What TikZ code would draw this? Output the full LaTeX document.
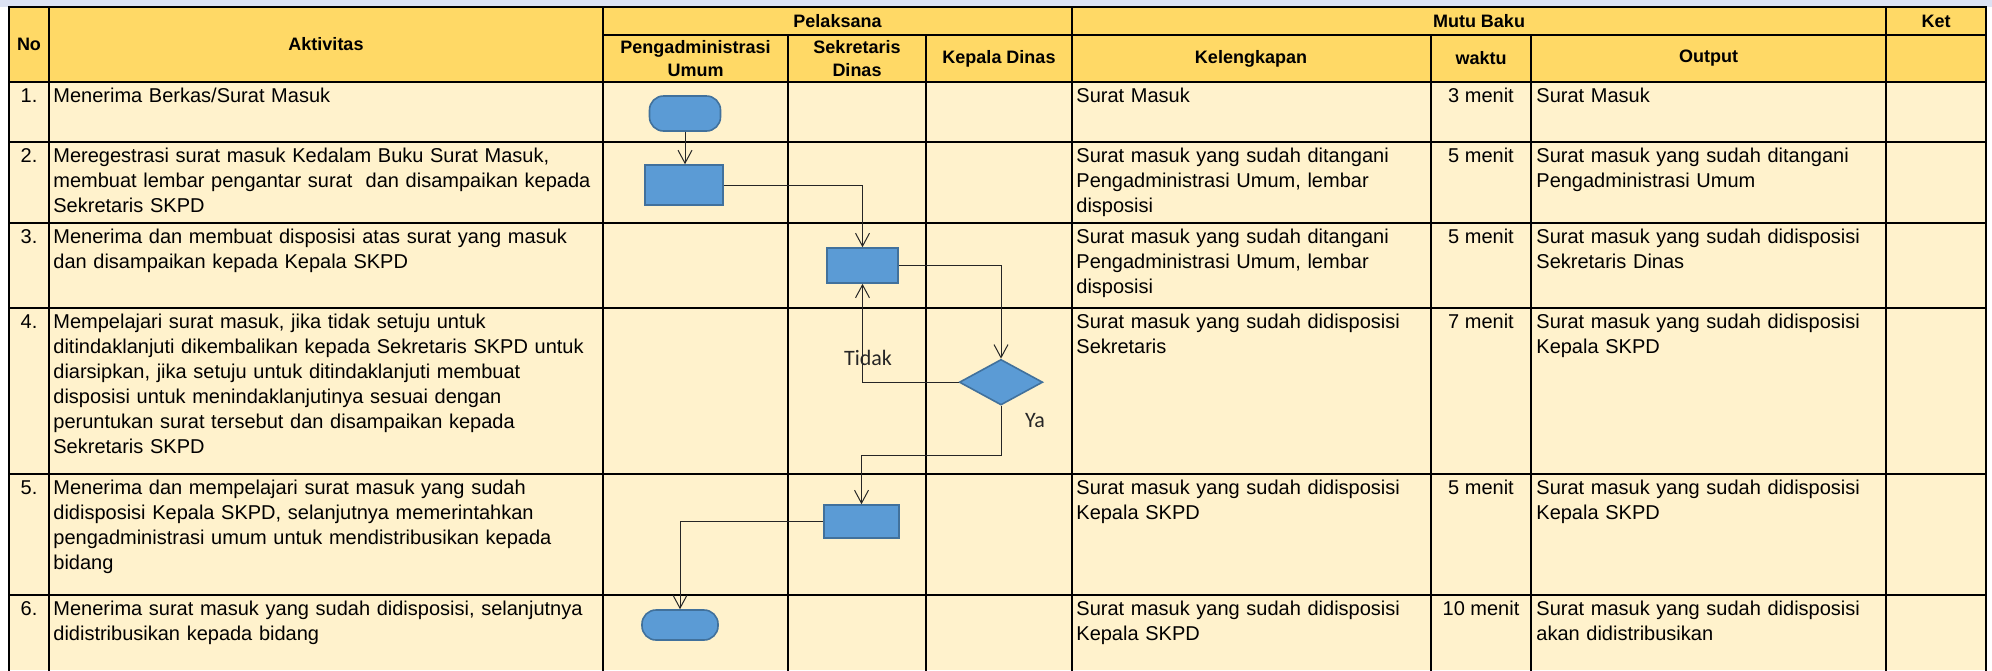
\documentclass[tikz,border=0pt]{standalone}
\usepackage{fontspec}
\setmainfont{Liberation Sans}
\newfontfamily\calfont{Carlito}
\usetikzlibrary{shapes.geometric,arrows.meta}
\definecolor{hdr}{HTML}{FFD966}
\definecolor{bodyc}{HTML}{FFF2CC}
\definecolor{band}{HTML}{DCE2F3}
\definecolor{shp}{HTML}{5B9BD5}
\definecolor{shpb}{HTML}{41719C}
\begin{document}
\begin{tikzpicture}[x=0.5pt,y=-0.5pt,
  grid/.style={line width=1pt,black,line cap=rect},
  hd/.style={font=\fontsize{9}{11.5}\selectfont\bfseries, align=center, inner sep=0},
  cell/.style={font=\fontsize{10}{12.5}\selectfont, anchor=base west, inner sep=0, text width=290pt, align=left},
  num/.style={font=\fontsize{10}{12.5}\selectfont, anchor=base, inner sep=0},
  proc/.style={draw=shpb, fill=shp, line width=0.8pt, rectangle, inner sep=0},
  term/.style={proc, rounded corners=7pt},
  dec/.style={draw=shpb, fill=shp, line width=0.8pt, diamond, inner sep=0},
  flow/.style={line width=0.5pt, black!85, -{Straight Barb[length=6.5pt,width=7pt]}},
  lbl/.style={font=\calfont\fontsize{11}{13}\selectfont, anchor=base, inner sep=0, text=black!85}
]
\useasboundingbox (0,0) rectangle (1992,670);
% backgrounds
\fill[white] (0,0) rectangle (1992,670);
\fill[band] (0,0) rectangle (1992,7);
\fill[hdr] (9,7) rectangle (1986,82);
\fill[bodyc] (9,82) rectangle (1986,670);
% grid
\foreach \y in {7,82,142,223,308,474,595} \draw[grid] (9,\y) -- (1986,\y);
\draw[grid] (603,35) -- (1986,35);
\foreach \x in {9,49,603,1072,1886,1986} \draw[grid] (\x,7) -- (\x,670);
\foreach \x in {788,926,1431,1531} \draw[grid] (\x,35) -- (\x,670);
% header
\node[hd] (hNo) at (29,44) {No};
\node[hd] (hAkt) at (326,44) {Aktivitas};
\node[hd] (hPel) at (837.5,21) {Pelaksana};
\node[hd] (hMutu) at (1479,21) {Mutu Baku};
\node[hd] (hKet) at (1936,21) {Ket};
\node[hd] (hPeng) at (695.5,58.5) {Pengadministrasi\\Umum};
\node[hd] (hSek) at (857,58.5) {Sekretaris\\Dinas};
\node[hd] (hKep) at (999,58.5) {Kepala Dinas};
\node[hd] (hKel) at (1251,58.5) {Kelengkapan};
\node[hd] (hWak) at (1481,58.5) {waktu};
\node[hd] (hOut) at (1708.5,58.5) {Output};
% row 1
\node[num] (n1) at (29,102) {1.};
\node[cell] (a1) at (53,102) {Menerima Berkas/Surat Masuk};
\node[cell] (k1) at (1076,102) {Surat Masuk};
\node[num] (w1) at (1481,102) {3 menit};
\node[cell] (o1) at (1536,102) {Surat Masuk};
% row 2
\node[num] (n2) at (29,162) {2.};
\node[cell] (a2) at (53,162) {Meregestrasi surat masuk Kedalam Buku Surat Masuk,\\membuat lembar pengantar surat\ \ dan disampaikan kepada\\Sekretaris SKPD};
\node[cell] (k2) at (1076,162) {Surat masuk yang sudah ditangani\\Pengadministrasi Umum, lembar\\disposisi};
\node[num] (w2) at (1481,162) {5 menit};
\node[cell] (o2) at (1536,162) {Surat masuk yang sudah ditangani\\Pengadministrasi Umum};
% row 3
\node[num] (n3) at (29,243) {3.};
\node[cell] (a3) at (53,243) {Menerima dan membuat disposisi atas surat yang masuk\\dan disampaikan kepada Kepala SKPD};
\node[cell] (k3) at (1076,243) {Surat masuk yang sudah ditangani\\Pengadministrasi Umum, lembar\\disposisi};
\node[num] (w3) at (1481,243) {5 menit};
\node[cell] (o3) at (1536,243) {Surat masuk yang sudah didisposisi\\Sekretaris Dinas};
% row 4
\node[num] (n4) at (29,328) {4.};
\node[cell] (a4) at (53,328) {Mempelajari surat masuk, jika tidak setuju untuk\\ditindaklanjuti dikembalikan kepada Sekretaris SKPD untuk\\diarsipkan, jika setuju untuk ditindaklanjuti membuat\\disposisi untuk menindaklanjutinya sesuai dengan\\peruntukan surat tersebut dan disampaikan kepada\\Sekretaris SKPD};
\node[cell] (k4) at (1076,328) {Surat masuk yang sudah didisposisi\\Sekretaris};
\node[num] (w4) at (1481,328) {7 menit};
\node[cell] (o4) at (1536,328) {Surat masuk yang sudah didisposisi\\Kepala SKPD};
% row 5
\node[num] (n5) at (29,494) {5.};
\node[cell] (a5) at (53,494) {Menerima dan mempelajari surat masuk yang sudah\\didisposisi Kepala SKPD, selanjutnya memerintahkan\\pengadministrasi umum untuk mendistribusikan kepada\\bidang};
\node[cell] (k5) at (1076,494) {Surat masuk yang sudah didisposisi\\Kepala SKPD};
\node[num] (w5) at (1481,494) {5 menit};
\node[cell] (o5) at (1536,494) {Surat masuk yang sudah didisposisi\\Kepala SKPD};
% row 6
\node[num] (n6) at (29,615) {6.};
\node[cell] (a6) at (53,615) {Menerima surat masuk yang sudah didisposisi, selanjutnya\\didistribusikan kepada bidang};
\node[cell] (k6) at (1076,615) {Surat masuk yang sudah didisposisi\\Kepala SKPD};
\node[num] (w6) at (1481,615) {10 menit};
\node[cell] (o6) at (1536,615) {Surat masuk yang sudah didisposisi\\akan didistribusikan};
% flow shapes
\node[term, minimum width=35.5pt, minimum height=17.5pt] (t1) at (685,113.5) {};
\node[proc, minimum width=39pt, minimum height=20pt] (r2) at (684,185) {};
\node[proc, minimum width=35.5pt, minimum height=17.5pt] (r3) at (862.5,265.5) {};
\node[dec, minimum width=41.7pt, minimum height=22.8pt] (d4) at (1001,382.2) {};
\node[proc, minimum width=37.5pt, minimum height=16.5pt] (r5) at (861.5,521.5) {};
\node[term, minimum width=38pt, minimum height=15pt] (t6) at (680,625) {};
\coordinate (yaTurn) at (1001,455);
% connectors
\draw[flow] (t1.south) -- (t1.south |- r2.north);
\draw[flow] (r2.east) -| (r3.north);
\draw[flow] (r3.east) -| (d4.north);
\draw[flow] (d4.west) -| (r3.south);
\draw[flow] (d4.south) -- (yaTurn) -| (r5.north);
\draw[flow] (r5.west) -| (t6.north);
% labels
\node[lbl] (tidak) at (868,365) {Tidak};
\node[lbl] (ya) at (1035,427) {Ya};
\end{tikzpicture}
\end{document}
